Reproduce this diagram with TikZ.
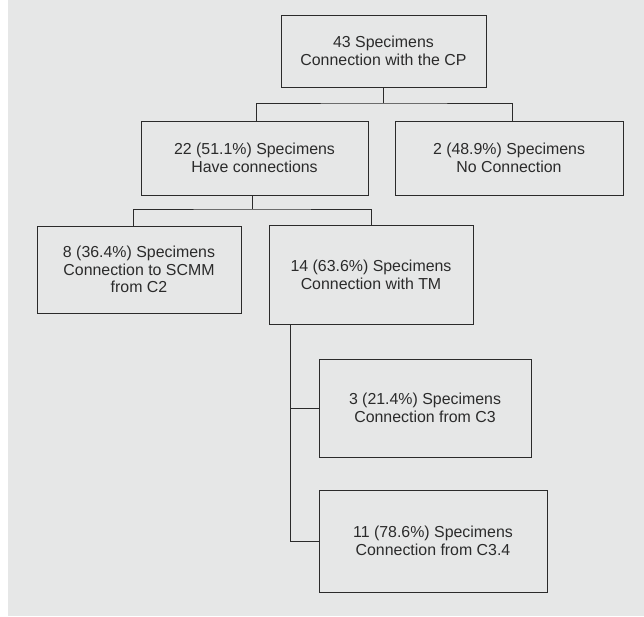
\documentclass[tikz,border=0pt]{standalone}
\usepackage{fontspec}
\setmainfont{Liberation Sans}
\definecolor{bg}{HTML}{E6E7E7}
\definecolor{ink}{HTML}{2B2B2B}
\tikzset{
  box/.style={draw=ink, line width=0.9pt, rectangle, align=center, text=ink,
    font=\fontsize{15.9}{17.7}\selectfont, inner sep=0pt},
  link/.style={draw=ink, line width=0.9pt}
}
\begin{document}
\begin{tikzpicture}[x=1pt,y=-1pt]
\useasboundingbox (0,0) rectangle (644,616);
\fill[white] (0,0) rectangle (644,616);
\fill[bg] (8,0) rectangle (644,616);
\node[box, minimum width=205pt, minimum height=72pt] (top) at (383.5,51) {43 Specimens\\Connection with the CP};
\node[box, minimum width=227pt, minimum height=74pt] (n22) at (254.5,158) {22 (51.1\%) Specimens\\Have connections};
\node[box, minimum width=228pt, minimum height=74pt] (n2) at (509,158) {2 (48.9\%) Specimens\\No Connection};
\node[box, minimum width=204pt, minimum height=87pt] (n8) at (139,269.5) {8 (36.4\%) Specimens\\Connection to SCMM\\from C2};
\node[box, minimum width=204pt, minimum height=99pt] (n14) at (371,274.5) {14 (63.6\%) Specimens\\Connection with TM};
\node[box, minimum width=212pt, minimum height=98pt] (n3) at (425,408) {3 (21.4\%) Specimens\\Connection from C3};
\node[box, minimum width=228pt, minimum height=102pt] (n11) at (433,541) {11 (78.6\%) Specimens\\Connection from C3.4};
% level 1
\coordinate (j1) at (383.5,103);
\draw[link] (top.south) -- (j1);
\draw[link] ([xshift=1.5pt]n22.north) |- (j1) -| ([xshift=3pt]n2.north);
% level 2
\coordinate (j2) at (252,209);
\draw[link] ([xshift=-2.5pt]n22.south) -- (j2);
\draw[link] ([xshift=-6pt]n8.north) |- (j2) -| (n14.north);
% level 3
\coordinate (c3) at ([xshift=-81pt]n14.south);
\draw[link] (c3) |- (n11.west);
\draw[link] (n3.west) -- (n3.west -| c3);
\end{tikzpicture}
\end{document}
